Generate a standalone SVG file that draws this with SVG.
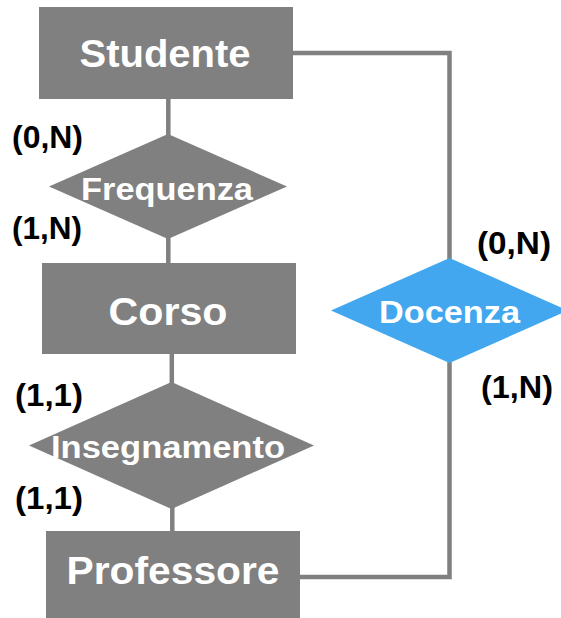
<svg xmlns="http://www.w3.org/2000/svg" width="561" height="618" viewBox="0 0 561 618">
<style>
.ent{fill:#808080}
.rel{fill:#808080}
.blue{fill:#42A7EE}
.lbl{font-family:"Liberation Sans",Arial,sans-serif;font-weight:bold;fill:#ffffff;text-anchor:middle}
.card{font-family:"Liberation Sans",Arial,sans-serif;font-weight:bold;fill:#000000;font-size:31px}
.conn{stroke:#808080;stroke-width:4.5;fill:none}
</style>
<rect width="561" height="618" fill="#ffffff"/>
<g id="connectors">
<line class="conn" x1="168.3" y1="98" x2="168.3" y2="136"/>
<line class="conn" x1="168.3" y1="236" x2="168.3" y2="264"/>
<line class="conn" x1="171.8" y1="353" x2="171.8" y2="384"/>
<line class="conn" x1="172.3" y1="506" x2="172.3" y2="532"/>
<polyline class="conn" points="292,53 449.5,53 449.5,260"/>
<polyline class="conn" points="299,577 449.5,577 449.5,361"/>
</g>
<g id="studente">
<rect class="ent" x="39" y="7" width="254" height="92"/>
<text class="lbl" x="165" y="67" font-size="39" textLength="171" lengthAdjust="spacingAndGlyphs">Studente</text>
</g>
<g id="frequenza">
<polygon class="rel" points="168,134 287,186.5 168,239 49,186.5"/>
<text class="lbl" x="167" y="200" font-size="32" textLength="172" lengthAdjust="spacingAndGlyphs">Frequenza</text>
</g>
<g id="corso">
<rect class="ent" x="42" y="263" width="254" height="91"/>
<text class="lbl" x="168" y="325" font-size="39" textLength="119" lengthAdjust="spacingAndGlyphs">Corso</text>
</g>
<g id="insegnamento">
<polygon class="rel" points="171.5,382 314,445.5 171.5,509 29,445.5"/>
<text class="lbl" x="168" y="458" font-size="32" textLength="234" lengthAdjust="spacingAndGlyphs">Insegnamento</text>
</g>
<g id="professore">
<rect class="ent" x="46" y="531" width="254" height="87"/>
<text class="lbl" x="173" y="584" font-size="39" textLength="213" lengthAdjust="spacingAndGlyphs">Professore</text>
</g>
<g id="docenza">
<polygon class="blue" points="449.5,258 568,310.5 449.5,363 331,310.5"/>
<text class="lbl" x="449.5" y="323" font-size="32" textLength="141" lengthAdjust="spacingAndGlyphs">Docenza</text>
</g>
<g id="cardinalities">
<text class="card" x="12" y="148" textLength="71" lengthAdjust="spacingAndGlyphs">(0,N)</text>
<text class="card" x="12" y="239" textLength="70" lengthAdjust="spacingAndGlyphs">(1,N)</text>
<text class="card" x="15" y="406" textLength="68" lengthAdjust="spacingAndGlyphs">(1,1)</text>
<text class="card" x="15" y="509" textLength="68" lengthAdjust="spacingAndGlyphs">(1,1)</text>
<text class="card" x="477" y="254" textLength="74" lengthAdjust="spacingAndGlyphs">(0,N)</text>
<text class="card" x="481" y="398" textLength="72" lengthAdjust="spacingAndGlyphs">(1,N)</text>
</g>
</svg>
